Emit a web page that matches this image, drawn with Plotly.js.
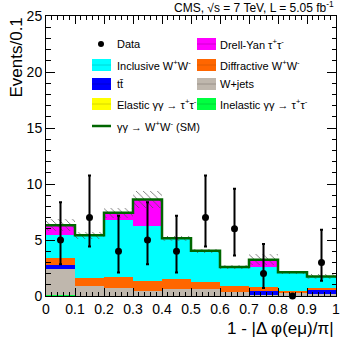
<!DOCTYPE html>
<html><head><meta charset="utf-8">
<script src="https://cdn.plot.ly/plotly-3.0.1.min.js"></script>
<style>html,body{margin:0;padding:0;background:#fff}#chart{width:354px;height:341px}</style>
</head><body><div id="chart"></div>
<script>
// bin centres of 1 - |dphi(e mu)/pi|
const binCenters = [0.05,0.15,0.25,0.35,0.45,0.55,0.65,0.75,0.85,0.95];
const binEdges = [0,0.1,0.2,0.3,0.4,0.5,0.6,0.7,0.8,0.9,1.0];
// stacked backgrounds, bottom to top (events / 0.1)
const inelasticTT = [0.10,0,0,0,0,0,0,0,0,0];
const elasticTT   = [0,0,0,0,0,0,0,0,0,0];
const wjets       = [2.33,0.85,0.70,0.45,0.63,0.63,0.39,0.09,0.24,0.18];
const ttbar       = [0.36,0,0,0,0,0,0,0.36,0,0.36];
const diffWW      = [0.61,0.74,1.04,0.93,0.87,0.60,0.51,0.33,0.24,0.17];
const inclWW      = [2.09,3.75,5.02,4.87,3.57,2.72,1.62,1.77,1.55,0.96];
const dytautau    = [0.74,0,0.60,2.29,0,0,0,0.61,0,0];
const smGGWW      = [0.08,0.08,0.08,0.08,0.08,0.08,0.08,0.08,0.08,0.08];
const bkgErr      = [0.55,0.30,0.45,0.80,0.20,0.20,0.15,0.48,0.15,0.20];
// data
const dataY       = [5,7,4,5,4,7,6,2,0,3];
const dataErrUp   = [3.38,3.77,3.16,3.38,3.16,3.77,3.58,2.64,0,2.92];
const dataErrDn   = [2.16,2.58,1.91,2.16,1.91,2.58,2.38,1.29,0,1.63];
const xTickVals = [0,0.1,0.2,0.3,0.4,0.5,0.6,0.7,0.8,0.9,1];
const xTickText = ['0','0.1','0.2','0.3','0.4','0.5','0.6','0.7','0.8','0.9','1'];
const yTickVals = [0,5,10,15,20,25];
const yTickText = ['0','5','10','15','20','25'];

const FONT = 'Liberation Sans, Arial, Helvetica, sans-serif';
const stackDefs = [
  {name:'Inelastic γγ → τ<sup>+</sup>τ<sup>-</sup>', y:inelasticTT, color:'#00ff40'},
  {name:'Elastic γγ → τ<sup>+</sup>τ<sup>-</sup>', y:elasticTT, color:'#ffff00'},
  {name:'W+jets', y:wjets, color:'#bfb7ad'},
  {name:'tt̄', y:ttbar, color:'#0000ff'},
  {name:'Diffractive W<sup>+</sup>W<sup>-</sup>', y:diffWW, color:'#ff6600'},
  {name:'Inclusive W<sup>+</sup>W<sup>-</sup>', y:inclWW, color:'#00ffff'},
  {name:'Drell-Yan τ<sup>+</sup>τ<sup>-</sup>', y:dytautau, color:'#ff00ff'},
];
const traces = stackDefs.map(d => ({
  type:'bar', x:binCenters, y:d.y, width:0.1, name:d.name,
  marker:{color:d.color, line:{width:0}}, showlegend:false, hoverinfo:'skip'
}));
const total = binCenters.map((_,i)=>inelasticTT[i]+elasticTT[i]+wjets[i]+ttbar[i]+diffWW[i]+inclWW[i]+dytautau[i]+smGGWW[i]);
// hatched uncertainty band
traces.push({
  type:'bar', x:binCenters, width:0.1,
  base: total.map((t,i)=>t-bkgErr[i]), y: bkgErr.map(e=>2*e),
  marker:{color:'rgba(0,0,0,0)', line:{width:0},
    pattern:{shape:'\\', fgcolor:'#555555', bgcolor:'rgba(0,0,0,0)', size:5, solidity:0.15, fillmode:'replace'}},
  showlegend:false, hoverinfo:'skip'
});
// SM gamma gamma -> WW outline at top of stack
traces.push({
  type:'scatter', mode:'lines', x:binEdges, y:total.concat([total[total.length-1]]),
  line:{shape:'hv', color:'#006600', width:2.5}, showlegend:false, hoverinfo:'skip'
});
// data points
traces.push({
  type:'scatter', mode:'markers', x:binCenters, y:dataY, cliponaxis:false,
  marker:{color:'black', size:7},
  error_y:{type:'data', symmetric:false, array:dataErrUp, arrayminus:dataErrDn, color:'black', thickness:2, width:1.5},
  showlegend:false, hoverinfo:'skip'
});

// manual two-column legend (pixel helpers -> paper coords)
const L=46, R=336, T=16, B=296;
const px = v => (v-L)/(R-L);
const py = v => (B-v)/(B-T);
const legendItems = [
  {text:'Data', kind:'marker', col:0, row:44},
  {text:'Drell-Yan τ<sup>+</sup>τ<sup>-</sup>', kind:'box', color:'#ff00ff', lc:'#d000d0', col:1, row:44},
  {text:'Inclusive W<sup>+</sup>W<sup>-</sup>', kind:'box', color:'#00ffff', lc:'#00d8d8', col:0, row:65},
  {text:'Diffractive W<sup>+</sup>W<sup>-</sup>', kind:'box', color:'#ff6600', lc:'#e05a00', col:1, row:65},
  {text:'tt̄', kind:'box', color:'#0000ff', lc:'#0000d0', col:0, row:84},
  {text:'W+jets', kind:'box', color:'#bfb7ad', lc:'#9a928a', col:1, row:84},
  {text:'Elastic γγ → τ<sup>+</sup>τ<sup>-</sup>', kind:'box', color:'#ffff00', lc:'#d8d800', col:0, row:104},
  {text:'Inelastic γγ → τ<sup>+</sup>τ<sup>-</sup>', kind:'box', color:'#00ff40', lc:'#00d838', col:1, row:104},
  {text:'γγ → W<sup>+</sup>W<sup>-</sup> (SM)', kind:'line', color:'#006600', col:0, row:126},
];
const shapes=[], annotations=[];
legendItems.forEach(it=>{
  const x0 = it.col===0 ? 92 : 197, x1 = x0+19, tx = it.col===0 ? 115 : 218;
  if(it.kind==='box'){
    shapes.push({type:'rect', xref:'paper', yref:'paper', x0:px(x0), x1:px(x1), y0:py(it.row+6), y1:py(it.row-6), fillcolor:it.color, line:{width:0}});
    shapes.push({type:'line', xref:'paper', yref:'paper', x0:px(x0), x1:px(x1), y0:py(it.row), y1:py(it.row), line:{color:it.lc, width:1}});
  } else if(it.kind==='line'){
    shapes.push({type:'line', xref:'paper', yref:'paper', x0:px(x0), x1:px(x1), y0:py(it.row), y1:py(it.row), line:{color:it.color, width:2.5}});
  } else {
    shapes.push({type:'circle', xref:'paper', yref:'paper', x0:px(98), x1:px(104), y0:py(47), y1:py(41), fillcolor:'black', line:{width:0}});
  }
  annotations.push({xref:'paper', yref:'paper', x:px(tx), y:py(it.row), xanchor:'left', yanchor:'middle', text:it.text, showarrow:false, font:{family:FONT, size:11, color:'black'}});
});
annotations.push({xref:'paper', yref:'paper', x:1, y:py(7), xanchor:'right', yanchor:'middle', showarrow:false,
  text:'CMS, √s = 7 TeV, L = 5.05 fb<sup>-1</sup>', font:{family:FONT, size:12, color:'black'}});
annotations.push({xref:'paper', yref:'paper', x:1, y:py(317), xanchor:'right', yanchor:'top', showarrow:false,
  text:'1 - |Δ φ(eμ)/π|', font:{family:FONT, size:17, color:'black'}});
annotations.push({xref:'paper', yref:'paper', x:px(4), y:1, xanchor:'left', yanchor:'top', textangle:-90, showarrow:false,
  text:'Events/0.1', font:{family:FONT, size:17, color:'black'}});

const axisCommon = {showline:true, linecolor:'black', linewidth:1, mirror:'allticks', ticks:'inside',
  showgrid:false, zeroline:false, tickcolor:'black', tickfont:{family:FONT, size:14, color:'black'}};
const layout = {
  width:354, height:341, margin:{l:L, r:354-R, t:T, b:341-B},
  paper_bgcolor:'white', plot_bgcolor:'white', barmode:'stack', bargap:0, showlegend:false,
  xaxis:Object.assign({}, axisCommon, {range:[0,1], tickvals:xTickVals, ticktext:xTickText, ticklen:8,
    minor:{ticks:'inside', ticklen:4, dtick:0.02, tickcolor:'black', showgrid:false}}),
  yaxis:Object.assign({}, axisCommon, {range:[0,25], tickvals:yTickVals, ticktext:yTickText, ticklen:9,
    minor:{ticks:'inside', ticklen:4.5, dtick:1, tickcolor:'black', showgrid:false}}),
  shapes:shapes, annotations:annotations
};
Plotly.newPlot('chart', traces, layout, {staticPlot:true, displayModeBar:false});
</script></body></html>
